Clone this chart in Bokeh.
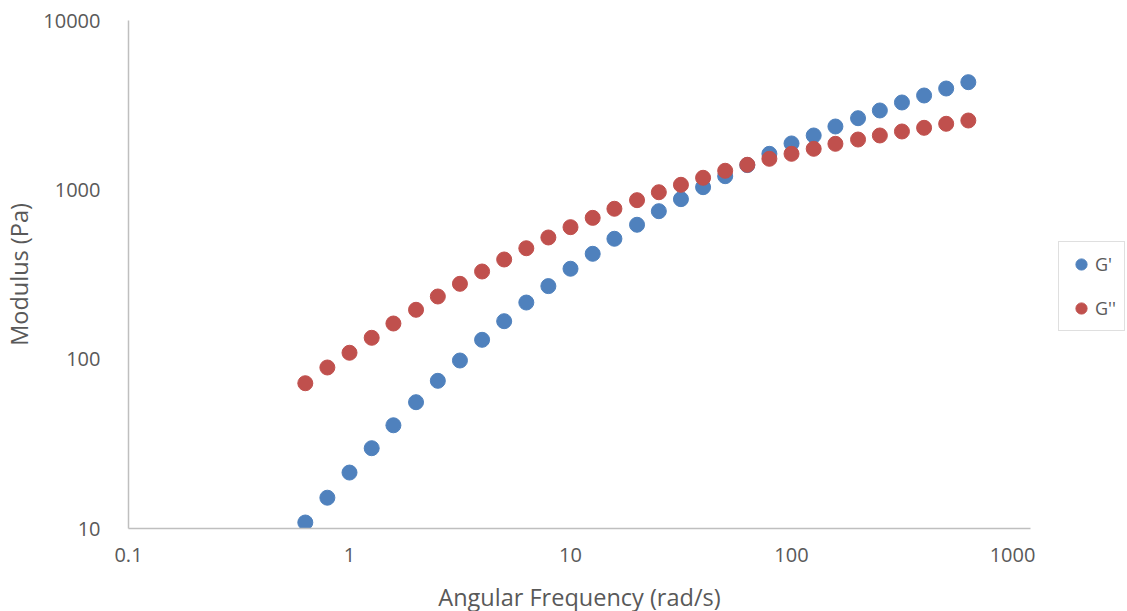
from bokeh.plotting import figure
from bokeh.models import FixedTicker, CustomJSTickFormatter, Legend, LegendItem, Range1d
from bokeh.embed import file_html
from bokeh.resources import INLINE

freq = [0.631, 0.794, 1.0, 1.26, 1.58, 2.0, 2.51, 3.16, 3.98, 5.01, 6.31, 7.94,
        10.0, 12.6, 15.8, 20.0, 25.1, 31.6, 39.8, 50.1, 63.1, 79.4,
        100.0, 126.0, 158.0, 200.0, 251.0, 316.0, 398.0, 501.0, 631.0]
g_storage = [10.85, 15.2, 21.4, 29.8, 40.7, 55.7, 74.5, 98.2, 130.1, 167.6, 216, 270,
             342, 419, 514, 622, 748, 881, 1037, 1204, 1400, 1632,
             1879, 2094, 2366, 2649, 2942, 3280, 3607, 3966, 4323]
g_loss = [72.1, 89.3, 109.1, 133.7, 162.4, 195.7, 234.5, 278.6, 329.4, 387.8, 451.9, 523.2,
          602, 683, 773, 869, 968, 1071, 1178, 1296, 1406, 1525,
          1632, 1747, 1870, 1982, 2094, 2211, 2324, 2455, 2567]
x_ticks = [0.1, 1, 10, 100, 1000]
y_ticks = [10, 100, 1000, 10000]
series_names = ["G'", "G''"]

FONT = "Open Sans"
TXT = "#595959"
AX = "#BFBFBF"

p = figure(frame_width=902, frame_height=508, x_axis_type="log", y_axis_type="log",
           x_range=Range1d(0.1, 1206), y_range=Range1d(10, 10000),
           output_backend="svg", toolbar_location=None,
           min_border_left=110, min_border_right=0, min_border_top=20, min_border_bottom=70)
p.outline_line_color = None
p.grid.visible = False

r1 = p.scatter(freq, g_storage, size=15, color="#4F81BD", line_color="#4F81BD")
r2 = p.scatter(freq, g_loss, size=15, color="#C0504D", line_color="#C0504D")

fmt = CustomJSTickFormatter(code="return tick.toString();")
p.xaxis.ticker = FixedTicker(ticks=x_ticks)
p.yaxis.ticker = FixedTicker(ticks=y_ticks)
for ax in (p.xaxis[0], p.yaxis[0]):
    ax.formatter = fmt
    ax.axis_line_color = AX
    ax.axis_line_width = 1.5
    ax.major_tick_line_color = None
    ax.minor_tick_line_color = None
    ax.major_label_text_font = FONT
    ax.major_label_text_font_size = "20px"
    ax.major_label_text_color = TXT
    ax.axis_label_text_font = FONT
    ax.axis_label_text_font_size = "23.5px"
    ax.axis_label_text_font_style = "normal"
    ax.axis_label_text_color = TXT

p.xaxis.axis_label = "Angular Frequency (rad/s)"
p.yaxis.axis_label = "Modulus (Pa)"
p.xaxis.major_label_standoff = 13
p.yaxis.major_label_standoff = 22
p.xaxis.axis_label_standoff = 16
p.yaxis.axis_label_standoff = 5

legend = Legend(items=[LegendItem(label=series_names[0], renderers=[r1]),
                       LegendItem(label=series_names[1], renderers=[r2])],
                location=(28, 197))
legend.border_line_color = AX
legend.border_line_width = 1.5
legend.background_fill_alpha = 0
legend.label_text_font = FONT
legend.label_text_font_size = "18px"
legend.label_text_color = TXT
legend.glyph_width = 28
legend.glyph_height = 28
legend.spacing = 16
legend.padding = 8
legend.margin = 0
legend.label_standoff = 0
p.add_layout(legend, "right")

open("out.html", "w").write(file_html(p, INLINE))
